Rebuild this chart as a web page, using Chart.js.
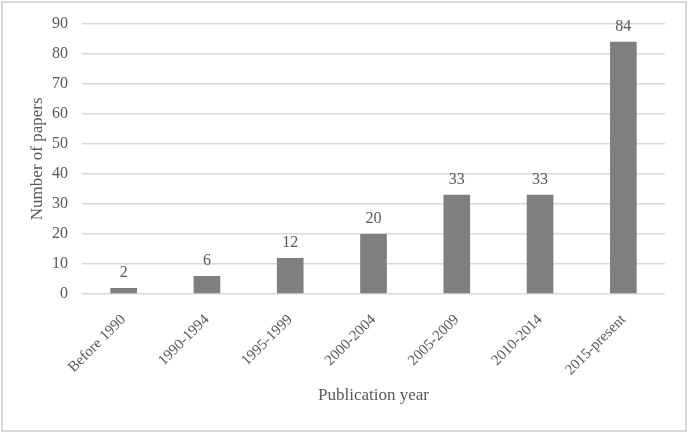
<!DOCTYPE html>
<html>
<head>
    <meta charset="utf-8" />
    <title>Number of papers by publication year</title>
    <script src="https://cdn.jsdelivr.net/npm/chart.js@4/dist/chart.umd.min.js"></script>
    <style>
        html, body { margin: 0; padding: 0; background: #fff; }
        #wrap { width: 688px; height: 433px; position: relative; }
    </style>
</head>
<body>
    <div id="wrap">
        <canvas id="papersChart" width="688" height="433"></canvas>
    </div>

    <script>
        // Data
        const periods = ['Before 1990', '1990-1994', '1995-1999', '2000-2004', '2005-2009', '2010-2014', '2015-present'];
        const paperCounts = [2, 6, 12, 20, 33, 33, 84];

        const textColor = '#595959';
        const serif = "'Liberation Serif', 'Times New Roman', serif";

        // Draws the value above each bar
        const valueLabels = {
            id: 'valueLabels',
            afterDatasetsDraw(chart) {
                const ctx = chart.ctx;
                const meta = chart.getDatasetMeta(0);
                ctx.save();
                ctx.font = '16px ' + serif;
                ctx.fillStyle = textColor;
                ctx.textAlign = 'center';
                ctx.textBaseline = 'bottom';
                meta.data.forEach((bar, i) => {
                    ctx.fillText(String(paperCounts[i]), bar.x, bar.y - 7);
                });
                ctx.restore();
            }
        };

        // Light grey frame around the whole chart
        const frame = {
            id: 'frame',
            beforeDraw(chart) {
                const ctx = chart.ctx;
                ctx.save();
                ctx.strokeStyle = '#d9d9d9';
                ctx.lineWidth = 2;
                ctx.strokeRect(2, 2, chart.width - 4, chart.height - 4);
                ctx.restore();
            }
        };

        const ctxPapers = document.getElementById('papersChart').getContext('2d');
        new Chart(ctxPapers, {
            type: 'bar',
            data: {
                labels: periods,
                datasets: [{
                    data: paperCounts,
                    backgroundColor: '#7f7f7f',
                    categoryPercentage: 1,
                    barPercentage: 0.32,
                }],
            },
            options: {
                responsive: false,
                animation: false,
                layout: { padding: { top: 22, right: 23, left: 0, bottom: 0 } },
                plugins: {
                    legend: { display: false },
                    tooltip: { enabled: false },
                },
                scales: {
                    x: {
                        grid: { display: false },
                        border: { display: false },
                        ticks: {
                            color: textColor,
                            font: { family: serif, size: 15 },
                            maxRotation: 45,
                            minRotation: 45,
                            padding: 9,
                        },
                        title: {
                            display: true,
                            text: 'Publication year',
                            color: textColor,
                            font: { family: serif, size: 17 },
                            padding: { top: 0, bottom: 27 },
                        },
                        afterFit(scale) { scale.height = 139; },
                    },
                    y: {
                        min: 0,
                        max: 90,
                        grid: { color: '#d9d9d9', lineWidth: 1.5, drawTicks: false },
                        border: { display: false },
                        ticks: {
                            stepSize: 10,
                            color: textColor,
                            font: { family: serif, size: 16 },
                            padding: 14,
                        },
                        title: {
                            display: true,
                            text: 'Number of papers',
                            color: textColor,
                            font: { family: serif, size: 17 },
                            padding: { top: 27, bottom: 0 },
                        },
                        afterFit(scale) { scale.width = 82; },
                    },
                },
            },
            plugins: [frame, valueLabels],
        });
    </script>
</body>
</html>
